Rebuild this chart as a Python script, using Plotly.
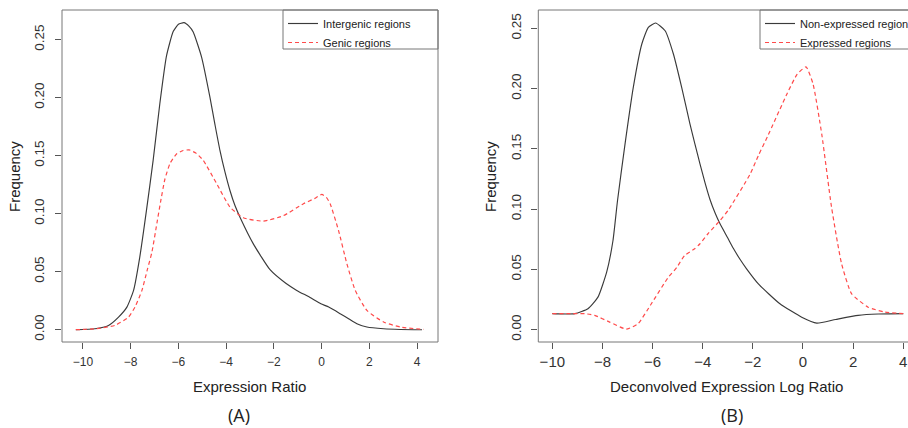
import plotly.graph_objects as go

# ---------------- data ----------------
# Panel A
a_inter_x = [-10.3, -9.5, -8.93, -8.51, -8.16, -7.88, -7.62, -7.34, -7.06, -6.78, -6.50, -6.22, -6.0,
             -5.77, -5.55, -5.38, -5.03, -4.68, -4.47, -4.26, -4.05, -3.84, -3.63, -3.42, -2.86, -2.16,
             -1.5, -1.04, -0.5, -0.03, 0.3, 0.78, 1.15, 1.48, 1.9, 2.6, 3.3, 4.21]
a_inter_y = [0.0, 0.0008, 0.0037, 0.0109, 0.0195, 0.0339, 0.0626, 0.1028, 0.146, 0.1948, 0.236, 0.257, 0.2633,
             0.2647, 0.2615, 0.2566, 0.235, 0.2005, 0.177, 0.1546, 0.136, 0.120, 0.107, 0.097, 0.074, 0.0517,
             0.040, 0.0339, 0.028, 0.0224, 0.0195, 0.0138, 0.0092, 0.0052, 0.0023, 0.0008, 0.0002, 0.0]

a_genic_x = [-10.3, -9.5, -8.66, -8.09, -7.82, -7.53, -7.3, -7.11, -6.9, -6.75, -6.57, -6.35, -6.08, -5.8,
             -5.55, -5.25, -4.96, -4.40, -3.84, -3.28, -2.44, -1.6, -0.76, -0.3, 0.01, 0.2, 0.36, 0.71,
             1.06, 1.41, 1.9, 2.6, 3.3, 4.28]
a_genic_y = [0.0, 0.0008, 0.0037, 0.0109, 0.0195, 0.0339, 0.052, 0.067, 0.092, 0.110, 0.1295, 0.1435, 0.1515, 0.1545,
             0.155, 0.152, 0.146, 0.126, 0.1057, 0.0965, 0.0936, 0.0983, 0.1086, 0.113, 0.1166, 0.114, 0.1086, 0.0856,
             0.0569, 0.0339, 0.0166, 0.0066, 0.0023, 0.0003]

# Panel B
b_non_x = [-10.0, -9.1, -8.58, -8.18, -7.83, -7.58, -7.40, -7.10, -6.77, -6.43, -6.17, -5.88, -5.50,
           -5.17, -4.84, -4.51, -4.31, -4.11, -3.91, -3.71, -3.51, -3.31, -3.0, -2.78, -2.5, -2.25,
           -1.78, -0.92, -0.05, 0.55, 1.3, 2.2, 3.0, 4.0]
b_non_y = [0.0133, 0.0133, 0.0174, 0.027, 0.048, 0.074, 0.107, 0.154, 0.201, 0.237, 0.2508, 0.2544, 0.248,
           0.2287, 0.201, 0.1707, 0.154, 0.1376, 0.122, 0.108, 0.097, 0.0878, 0.076, 0.0675, 0.058, 0.0505,
           0.038, 0.0215, 0.0104, 0.0055, 0.0085, 0.0119, 0.013, 0.0133]

b_exp_x = [-10.0, -9.2, -8.7, -8.31, -7.71, -7.05, -6.58, -6.05, -5.39, -5.04, -4.72, -4.32, -4.11, -3.79,
           -3.31, -2.99, -2.11, -1.78, -1.42, -0.63, -0.23, 0.12, 0.4, 0.75, 1.14, 1.54, 1.94, 2.6,
           3.26, 4.0]
b_exp_y = [0.0133, 0.0133, 0.0133, 0.0119, 0.0063, 0.0005, 0.005, 0.0215, 0.043, 0.0515, 0.0616, 0.0671, 0.0713, 0.0796,
           0.0906, 0.0989, 0.129, 0.1445, 0.16, 0.196, 0.212, 0.218, 0.204, 0.162, 0.1016, 0.0547, 0.0298, 0.0187,
           0.0146, 0.0133]

a_names = ["Intergenic regions", "Genic regions"]
b_names = ["Non-expressed regions", "Expressed regions"]
x_ticks = [-10, -8, -6, -4, -2, 0, 2, 4]
y_ticks = [0.0, 0.05, 0.10, 0.15, 0.20, 0.25]
y_tick_text = ["0.00", "0.05", "0.10", "0.15", "0.20", "0.25"]

# ---------------- styling ----------------
W, H = 908, 428
FONT = "Liberation Sans, Arial, sans-serif"
BLACK = "#3a3a3a"
RED = "#ff4a4a"

def px(x):
    return x / W

def py(y):
    return 1 - y / H

fig = go.Figure()

line_black = dict(color=BLACK, width=1.15, shape="spline", smoothing=0.5)
line_red = dict(color=RED, width=1.2, dash="4px,3px", shape="spline", smoothing=0.5)

fig.add_trace(go.Scatter(x=a_inter_x, y=a_inter_y, mode="lines", name=a_names[0], line=line_black,
                         xaxis="x", yaxis="y", legend="legend"))
fig.add_trace(go.Scatter(x=a_genic_x, y=a_genic_y, mode="lines", name=a_names[1], line=line_red,
                         xaxis="x", yaxis="y", legend="legend"))
fig.add_trace(go.Scatter(x=b_non_x, y=b_non_y, mode="lines", name=b_names[0], line=line_black,
                         xaxis="x2", yaxis="y2", legend="legend2"))
fig.add_trace(go.Scatter(x=b_exp_x, y=b_exp_y, mode="lines", name=b_names[1], line=line_red,
                         xaxis="x2", yaxis="y2", legend="legend2"))

# plot-area geometry in pixels
A_L, A_R = 62, 438
B_L = 538.3
T, B = 10, 342

axis_common = dict(showgrid=False, zeroline=False, showline=False, ticks="outside", ticklen=6,
                   tickcolor="#555555", tickwidth=1)

fig.update_layout(
    width=W, height=H, autosize=False,
    margin=dict(l=0, r=0, t=0, b=0, autoexpand=False),
    paper_bgcolor="white", plot_bgcolor="white",
    font=dict(family=FONT, color="#333333"),
    xaxis=dict(domain=[px(A_L), px(A_R)], range=[-10.88, 4.88], tickvals=x_ticks,
               tickfont=dict(size=12, family=FONT, color="#333333"), ticklabelstandoff=3,
               anchor="y", **axis_common),
    yaxis=dict(domain=[py(B), py(T)], range=[-0.0106, 0.2756], tickvals=y_ticks, ticktext=y_tick_text,
               tickangle=-90, tickfont=dict(size=13.5, family=FONT, color="#333333"), ticklabelstandoff=6,
               anchor="x", **axis_common),
    xaxis2=dict(domain=[px(B_L), 1.0], range=[-10.56, 4.19], tickvals=x_ticks,
                tickfont=dict(size=15, family=FONT, color="#333333"), ticklabelstandoff=0,
                anchor="y2", **axis_common),
    yaxis2=dict(domain=[py(B), py(T)], range=[-0.0102, 0.2652], tickvals=y_ticks, ticktext=y_tick_text,
                tickangle=-90, tickfont=dict(size=13.5, family=FONT, color="#333333"), ticklabelstandoff=5,
                anchor="x2", **axis_common),
    legend=dict(x=px(283), y=py(9), xanchor="left", yanchor="top", bgcolor="rgba(0,0,0,0)",
                borderwidth=0, font=dict(size=11, family=FONT, color="#222222"), itemwidth=30,
                tracegroupgap=0),
    legend2=dict(x=px(760), y=py(9), xanchor="left", yanchor="top", bgcolor="rgba(0,0,0,0)",
                 borderwidth=0, font=dict(size=11, family=FONT, color="#222222"), itemwidth=30,
                 tracegroupgap=0),
    showlegend=True,
)

# frames (R style box) and legend boxes
frame = dict(type="rect", xref="paper", yref="paper", line=dict(color="#777777", width=1),
             fillcolor="rgba(0,0,0,0)", layer="above")
fig.add_shape(**frame, x0=px(A_L), x1=px(A_R), y0=py(B), y1=py(T))
fig.add_shape(**frame, x0=px(B_L), x1=1.05, y0=py(B), y1=py(T))
fig.add_shape(**frame, x0=px(283), x1=px(A_R), y0=py(49), y1=py(T))
fig.add_shape(**frame, x0=px(760), x1=1.05, y0=py(49), y1=py(T))

# titles
def ann(text, x, y, size, angle=0, family=FONT):
    fig.add_annotation(text=text, x=px(x), y=py(y), xref="paper", yref="paper", showarrow=False,
                       xanchor="center", yanchor="middle", textangle=angle,
                       font=dict(size=size, family=family, color="#222222"))

ann("Frequency", 15, 177, 15, -90)
ann("Frequency", 491, 177, 15, -90)
ann("Expression Ratio", 250, 386, 15)
ann("Deconvolved Expression Log Ratio", 726, 386, 15)
ann("(A)", 239, 415, 18, family="Open Sans, sans-serif")
ann("(B)", 732, 415, 18, family="Open Sans, sans-serif")

fig.write_html("out.html",
               config={"responsive": False, "displayModeBar": False},
               post_script="document.documentElement.style.overflow='hidden';"
                           "document.body.style.margin='0';document.body.style.overflow='hidden';")
